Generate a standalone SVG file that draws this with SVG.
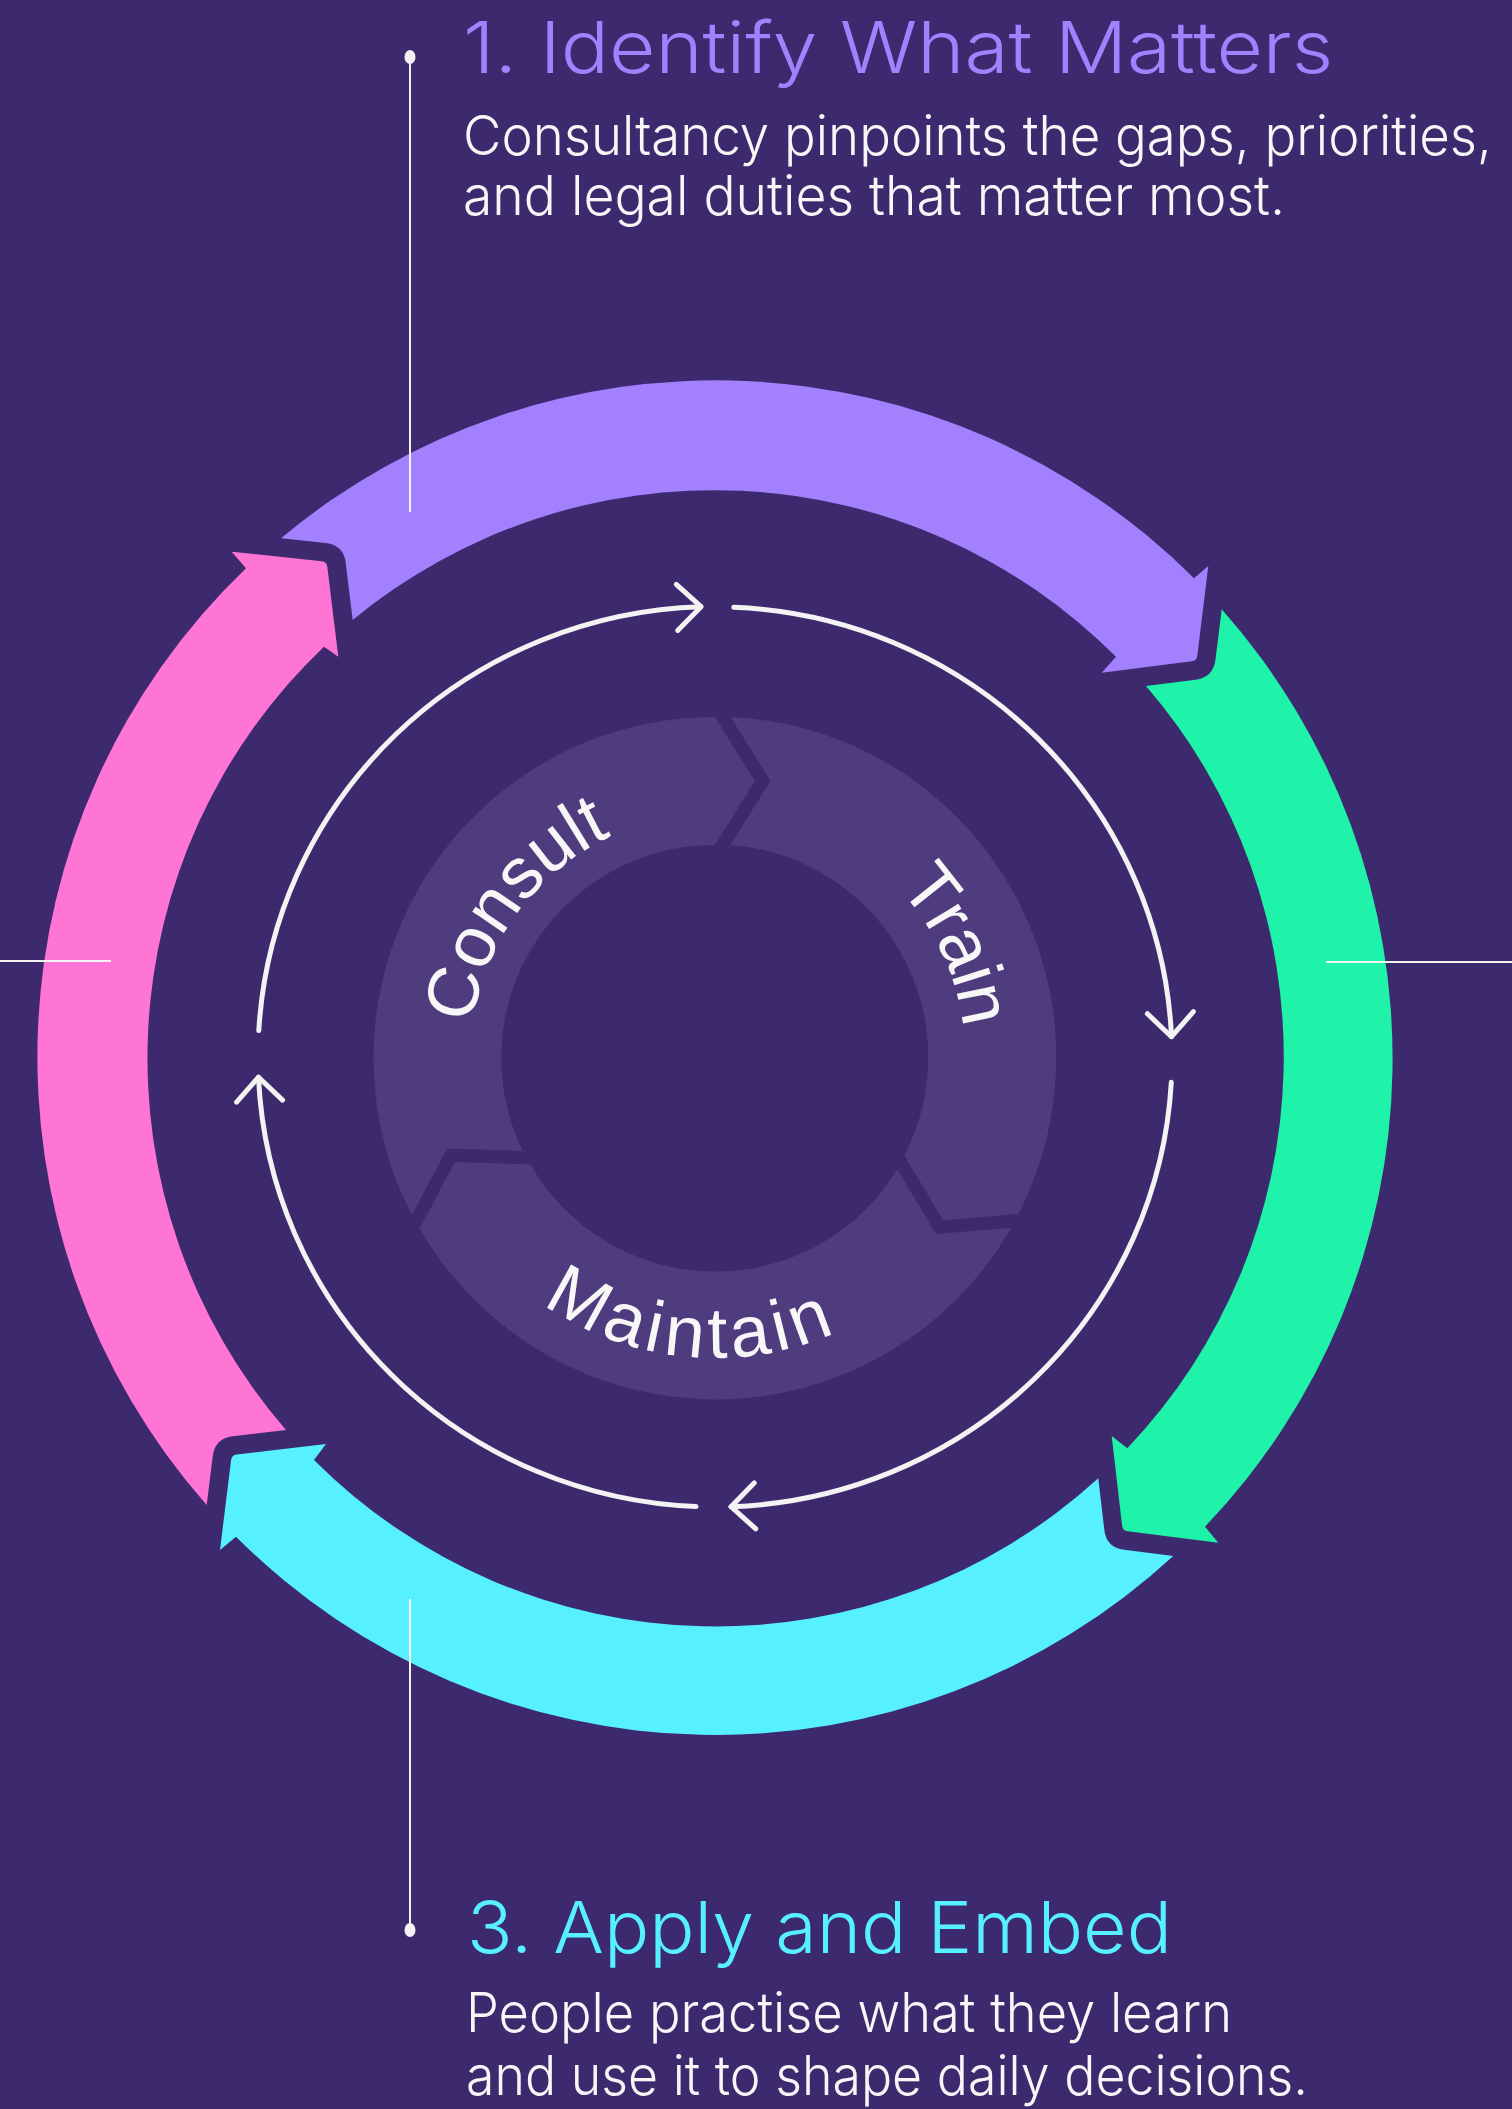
<svg xmlns="http://www.w3.org/2000/svg" width="1512" height="2109" viewBox="0 0 1512 2109">
<style>
.bg{fill:#3d2a6e}
.seg{stroke:none}
.donut{fill:#4f3c7e}
.ring{fill:none;stroke:#f3f3f3;stroke-width:5;stroke-linecap:round}
.lead{stroke:#f3f3f3;stroke-width:2;fill:none}
.dot{fill:#f3f3f3}
.title{font-family:Inter,"Liberation Sans",sans-serif;font-weight:300;font-size:72px}
.body{font-family:Inter,"Liberation Sans",sans-serif;font-weight:300;font-size:55px;fill:#f7f7f7}
.lbl{font-family:"Liberation Sans",Arial,sans-serif;font-size:72px;fill:#f7f7f7}
</style>
<defs>
<marker id="ah" markerUnits="userSpaceOnUse" orient="auto" viewBox="-30 -30 60 60" markerWidth="60" markerHeight="60" refX="0" refY="0" overflow="visible">
<path d="M -24 -23 L 0 0 L -24 23" fill="none" stroke="#f3f3f3" stroke-width="5" stroke-linecap="round" stroke-linejoin="round"/>
</marker>
<path id="pConsult" d="M 490.3 1155.7 A 245 245 0 0 1 742.7 814.6"/>
<path id="pTrain" d="M 736.8 808.9 A 250 250 0 0 1 919.8 1201.4"/>
<path id="pMaintain" d="M 442.7 1183.8 A 300 300 0 0 0 960.1 1230.9"/>
</defs>
<rect class="bg" x="0" y="0" width="1512" height="2109"/>

<g id="outer-ring">
<g id="seg-identify"><path class="seg" fill="#a280fe" d="M 281 538.3 A 677 677 0 0 1 1194 578.3 L 1208.3 566 L 1197.3 655.7 Q 1196.7 660.7 1191.7 661.3 L 1101.7 672.7 L 1116 656.7 A 568 568 0 0 0 352.7 620 L 345.7 562.8 Q 343.5 544.9 325.6 543 Z"/></g>
<g id="seg-train"><path class="seg" fill="#1ff2a9" d="M 1221.7 609.3 A 677 677 0 0 1 1205 1526.7 L 1218.3 1542.7 L 1127.7 1531.3 Q 1122.7 1530.7 1122.1 1525.7 L 1111.7 1436 L 1127.3 1448.3 A 568 568 0 0 0 1146 686 L 1195.5 679.8 Q 1213.35 677.5 1215.5 659.6 Z"/></g>
<g id="seg-apply"><path class="seg" fill="#57f0ff" d="M 1173.3 1556 A 677 677 0 0 1 236 1536.7 L 220 1550 L 231.1 1460 Q 231.7 1455 236.7 1454.4 L 326 1444 L 314 1460 A 568 568 0 0 0 1098.3 1478.3 L 1104.3 1529.7 Q 1106.35 1547.6 1124.2 1549.8 Z"/></g>
<g id="seg-maintain"><path class="seg" fill="#ff75d5" d="M 206.7 1505 A 677 677 0 0 1 246 568.3 L 231.7 551.7 L 321.7 561.2 Q 326.7 561.7 327.3 566.7 L 338.3 656.7 L 324 646.7 A 568 568 0 0 0 286 1430 L 232.8 1436.2 Q 214.9 1438.3 212.7 1456.2 Z"/></g>
</g>

<g id="inner-donut">
<g id="donut-consult"><path class="donut" d="M 411.9 1215 A 341 341 0 0 1 715 717 L 754.9 780.9 L 715 845 A 213 213 0 0 0 522.7 1151 L 447.2 1148.5 Z"/><text class="lbl"><textPath href="#pConsult" startOffset="50%" text-anchor="middle">Consult</textPath></text></g>
<g id="donut-train"><path class="donut" d="M 730.6 717 A 341 341 0 0 1 1018.3 1213.9 L 943.2 1220.2 L 904.4 1155.4 A 213 213 0 0 0 730.6 845 L 770.5 780.9 Z"/><text class="lbl" letter-spacing="-1"><textPath href="#pTrain" startOffset="50%" text-anchor="middle">Train</textPath></text></g>
<g id="donut-maintain"><path class="donut" d="M 1011.2 1227.8 A 341 341 0 0 1 419.7 1228.5 L 455 1162 L 530.5 1164.5 A 213 213 0 0 0 897.3 1169.3 L 936.1 1234.1 Z"/><text class="lbl" letter-spacing="5"><textPath href="#pMaintain" startOffset="50%" text-anchor="middle">Maintain</textPath></text></g>
</g>

<g id="connectors">
<path class="ring" marker-end="url(#ah)" d="M 258.8 1030.6 A 457 450 0 0 1 701 606.7"/>
<path class="ring" marker-end="url(#ah)" d="M 733.8 607.3 A 457 450 0 0 1 1171.5 1036.7"/>
<path class="ring" marker-end="url(#ah)" d="M 1171.3 1082.3 A 457 450 0 0 1 731 1506.7"/>
<path class="ring" marker-end="url(#ah)" d="M 696 1506.6 A 457 450 0 0 1 258.5 1077.2"/>
<line class="lead" x1="410" y1="57" x2="410" y2="512"/>
<line class="lead" x1="410" y1="1599" x2="410" y2="1930"/>
<line class="lead" x1="0" y1="961" x2="111" y2="961"/>
<line class="lead" x1="1326" y1="962" x2="1512" y2="962"/>
<ellipse class="dot" cx="410" cy="57" rx="5.5" ry="7"/>
<ellipse class="dot" cx="410" cy="1930" rx="5.5" ry="7"/>
</g>

<g id="step-1">
<text class="title" fill="#a280fe" x="463" y="73" textLength="870" lengthAdjust="spacingAndGlyphs">1. Identify What Matters</text>
<text class="body" x="463" y="155" textLength="1029" lengthAdjust="spacingAndGlyphs">Consultancy pinpoints the gaps, priorities,</text>
<text class="body" x="463" y="215" textLength="822" lengthAdjust="spacingAndGlyphs">and legal duties that matter most.</text>
</g>

<g id="step-3">
<text class="title" fill="#57f0ff" x="467" y="1953" textLength="705" lengthAdjust="spacingAndGlyphs">3. Apply and Embed</text>
<text class="body" x="466" y="2032" textLength="766" lengthAdjust="spacingAndGlyphs">People practise what they learn</text>
<text class="body" x="466" y="2095" textLength="842" lengthAdjust="spacingAndGlyphs">and use it to shape daily decisions.</text>
</g>
</svg>
